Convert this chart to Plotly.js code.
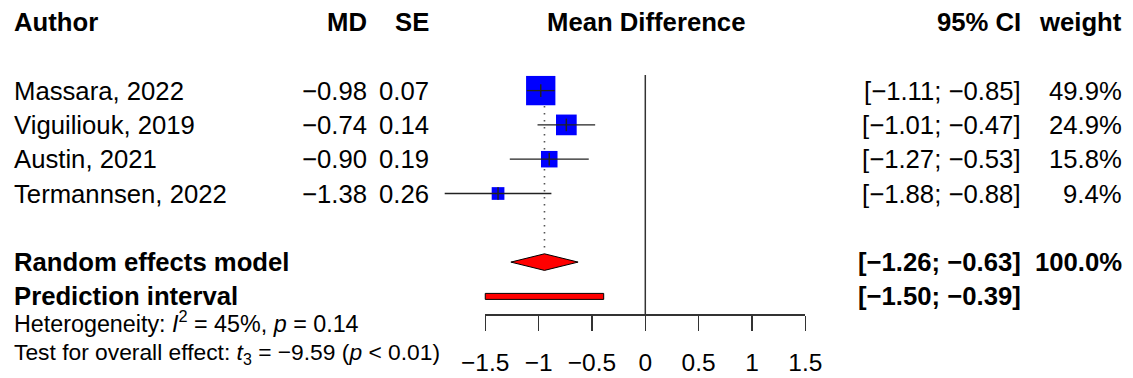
<!DOCTYPE html>
<html>
<head>
<meta charset="utf-8">
<script src="https://cdn.plot.ly/plotly-3.0.1.min.js"></script>
<style>html,body{margin:0;padding:0;background:#fff;}#chart{width:1133px;height:378px;}</style>
</head>
<body>
<div id="chart"></div>
<script>
// ---- data ----
const authors = ["Massara, 2022", "Viguiliouk, 2019", "Austin, 2021", "Termannsen, 2022"];
const md = [-0.98, -0.74, -0.90, -1.38];
const se = [0.07, 0.14, 0.19, 0.26];
const ciLow = [-1.11, -1.01, -1.27, -1.88];
const ciHigh = [-0.85, -0.47, -0.53, -0.88];
const weights = [49.9, 24.9, 15.8, 9.4];
const reEst = -0.945;
const reLow = -1.26;
const reHigh = -0.63;
const piLow = -1.50;
const piHigh = -0.39;
const reWeight = 100.0;
const tickVals = [-1.5, -1, -0.5, 0, 0.5, 1, 1.5];
const tickText = ["\u22121.5", "\u22121", "\u22120.5", "0", "0.5", "1", "1.5"];
const heterogeneity = {I2: 45, p: "0.14"};
const overall = {df: 3, t: -9.59, p: "< 0.01"};

// ---- layout helpers ----
const W = 1133, H = 378;
const FONT = "Liberation Sans, Arial, Helvetica, sans-serif";
const row0px = 22, rowH = 34.3;            // pixel of row 0, pixel per row
const pxToRow = p => (p - row0px) / rowH;
const zeroPx = 645.3, unitPx = 106.7;      // pixel of x=0, pixel per unit
const xLeft = -zeroPx / unitPx, xRight = (W - zeroPx) / unitPx;
const axisPx = 314;
const axisRow = pxToRow(axisPx);
const studyRows = authors.map((_, i) => 2 + i);
const reRow = 7, piRow = 8;
const fmt = v => (v < 0 ? "\u2212" : "") + Math.abs(v).toFixed(2);

const traces = [];
// zero (no-effect) line
traces.push({x: [0, 0], y: [pxToRow(75), axisRow], mode: "lines",
  line: {color: "#333", width: 1.5}, hoverinfo: "skip", showlegend: false});
// dotted pooled-estimate line
traces.push({x: [reEst, reEst], y: [pxToRow(78), pxToRow(252)], mode: "lines",
  line: {color: "#555", width: 1.6, dash: "1.6px,5.4px"}, hoverinfo: "skip", showlegend: false});
// squares
traces.push({x: md, y: studyRows, mode: "markers",
  marker: {symbol: "square", color: "#0000FF", opacity: 1, size: weights.map(w => 4.15 * Math.sqrt(w)), line: {width: 0}},
  hoverinfo: "skip", showlegend: false});
// CI lines
const cx = [], cy = [];
ciLow.forEach((lo, i) => { cx.push(lo, ciHigh[i], null); cy.push(studyRows[i], studyRows[i], null); });
traces.push({x: cx, y: cy, mode: "lines", line: {color: "#222", width: 1.3},
  hoverinfo: "skip", showlegend: false});
// point-estimate ticks
traces.push({x: md, y: studyRows, mode: "markers",
  marker: {symbol: "line-ns", size: 9, opacity: 1, line: {color: "#222", width: 1.5}},
  hoverinfo: "skip", showlegend: false});
// diamond
const dh = 8.3 / rowH;
traces.push({x: [reLow, reEst, reHigh, reEst, reLow], y: [reRow, reRow - dh, reRow, reRow + dh, reRow],
  mode: "lines", fill: "toself", fillcolor: "#FF0000", line: {color: "#000", width: 1},
  hoverinfo: "skip", showlegend: false});
// prediction interval bar
const ph = 3 / rowH;
traces.push({x: [piLow, piHigh, piHigh, piLow, piLow], y: [piRow - ph, piRow - ph, piRow + ph, piRow + ph, piRow - ph],
  mode: "lines", fill: "toself", fillcolor: "#FF0000", line: {color: "#000", width: 1},
  hoverinfo: "skip", showlegend: false});
// invisible trace to hold the tick axis
traces.push({x: tickVals, y: tickVals.map(() => axisRow), xaxis: "x2", yaxis: "y", mode: "markers",
  marker: {opacity: 0}, hoverinfo: "skip", showlegend: false});

// ---- text ----
const ann = [];
function T(text, px, row, anchor, bold, size) {
  ann.push({text: bold ? "<b>" + text + "</b>" : text, xref: "paper", yref: "y", x: px / W, y: row,
    xanchor: anchor, yanchor: "middle", showarrow: false,
    font: {family: FONT, size: size || 25.7, color: "#000"}});
}
const col = {author: 12, md: 369, se: 431, mean: 646, ci: 1023, w: 1124};
T("Author", col.author, 0, "left", true);
T("MD", col.md, 0, "right", true);
T("SE", col.se, 0, "right", true);
T("Mean Difference", col.mean, 0, "center", true);
T("95% CI", col.ci, 0, "right", true);
T("weight", col.w, 0, "right", true);
authors.forEach((a, i) => {
  const r = studyRows[i];
  T(a, col.author, r, "left", false);
  T(fmt(md[i]), col.md, r, "right", false);
  T(se[i].toFixed(2), col.se, r, "right", false);
  T("[" + fmt(ciLow[i]) + "; " + fmt(ciHigh[i]) + "]", col.ci, r, "right", false);
  T(weights[i].toFixed(1) + "%", col.w, r, "right", false);
});
T("Random effects model", col.author, reRow, "left", true);
T("[" + fmt(reLow) + "; " + fmt(reHigh) + "]", col.ci, reRow, "right", true);
T(reWeight.toFixed(1) + "%", col.w, reRow, "right", true);
T("Prediction interval", col.author, piRow, "left", true);
T("[" + fmt(piLow) + "; " + fmt(piHigh) + "]", col.ci, piRow, "right", true);
T("Heterogeneity: <i>I</i><sup>2</sup> = " + heterogeneity.I2 + "%, <i>p</i> = " + heterogeneity.p,
  col.author, pxToRow(322), "left", false, 23.3);
T("Test for overall effect: <i>t</i><sub>" + overall.df + "</sub> = " + fmt(overall.t) +
  " (<i>p</i> " + overall.p.replace("<", "&lt;") + ")", col.author, pxToRow(353), "left", false, 22.8);

const layout = {
  width: W, height: H,
  margin: {l: 0, r: 0, t: 0, b: 0, pad: 0},
  paper_bgcolor: "#fff", plot_bgcolor: "rgba(0,0,0,0)",
  showlegend: false,
  xaxis: {range: [xLeft, xRight], visible: false, fixedrange: true},
  yaxis: {range: [pxToRow(H), pxToRow(0)], visible: false, fixedrange: true},
  xaxis2: {domain: [(zeroPx - 1.5 * unitPx) / W, (zeroPx + 1.5 * unitPx) / W],
    range: [-1.5, 1.5], anchor: "free", position: (H - axisPx) / H, side: "bottom",
    showline: true, linecolor: "#333", linewidth: 1.5,
    ticks: "outside", ticklen: 15, tickwidth: 1.5, tickcolor: "#333",
    tickmode: "array", tickvals: tickVals, ticktext: tickText,
    tickfont: {family: FONT, size: 24.5, color: "#000"},
    ticklabelstandoff: 11,
    showgrid: false, zeroline: false, fixedrange: true},
  annotations: ann
};
Plotly.newPlot("chart", traces, layout, {displayModeBar: false, staticPlot: true});
</script>
</body>
</html>
